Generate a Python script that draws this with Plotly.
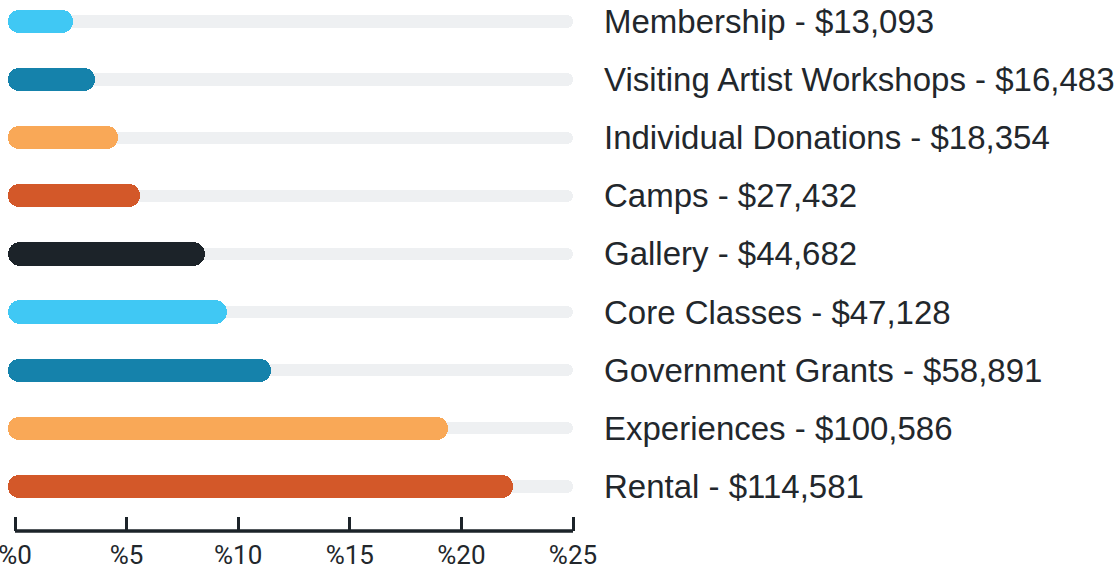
import plotly.graph_objects as go

# Data (top to bottom in the picture)
categories = ["Membership", "Visiting Artist Workshops", "Individual Donations", "Camps",
              "Gallery", "Core Classes", "Government Grants", "Experiences", "Rental"]
amounts = ["$13,093", "$16,483", "$18,354", "$27,432", "$44,682", "$47,128",
           "$58,891", "$100,586", "$114,581"]
percents = [2.61, 3.57, 4.61, 5.60, 8.51, 9.51, 11.48, 19.39, 22.33]
colors = ["#40c8f4", "#1582ab", "#f9a857", "#d35829", "#1c2329",
          "#40c8f4", "#1582ab", "#f9a857", "#d35829"]
tick_vals = [0, 5, 10, 15, 20, 25]
tick_text = ["%0", "%5", "%10", "%15", "%20", "%25"]
track_max = 25

# plot from bottom (Rental) to top
cats = categories[::-1]
amts = amounts[::-1]
pcts = percents[::-1]
cols = colors[::-1]
ypos = list(range(len(cats)))

base = -0.314

fig = go.Figure()
fig.add_trace(go.Bar(
    y=ypos, x=[track_max - base] * len(cats), base=base, orientation="h",
    width=0.21, marker=dict(color="#eef0f2", cornerradius="50%", line=dict(width=0)),
    hoverinfo="skip", showlegend=False))
fig.add_trace(go.Bar(
    y=ypos, x=[p - base for p in pcts], base=base, orientation="h",
    width=0.40, marker=dict(color=cols, cornerradius="50%", line=dict(width=0)),
    showlegend=False))

for i, (c, a) in enumerate(zip(cats, amts)):
    fig.add_annotation(x=1, xref="paper", y=i, yref="y", xanchor="left", xshift=27,
                       text=f"{c} - {a}", showarrow=False,
                       font=dict(family="Liberation Sans, Arial, sans-serif", size=33, color="#22272c"))

fig.add_shape(type="line", xref="x", yref="paper", x0=0, x1=track_max, y0=0, y1=0,
              line=dict(color="#1c2329", width=3.5))

fig.update_layout(
    width=1118, height=571,
    margin=dict(l=6, r=543, t=4, b=40, autoexpand=False),
    paper_bgcolor="white", plot_bgcolor="white",
    barmode="overlay", bargap=0,
    xaxis=dict(range=[-9 / 22.32, 25 + 2 / 22.32], tickvals=tick_vals, ticktext=tick_text,
               ticks="inside", ticklen=14, tickwidth=3, tickcolor="#1c2329",
               showgrid=False, zeroline=False, showline=False, ticklabelstandoff=6,
               automargin=False, ticklabeloverflow="allow",
               tickfont=dict(family="Liberation Sans Narrow, Roboto, sans-serif", size=26, color="#22272c")),
    yaxis=dict(range=[-0.766, 8.3], showticklabels=False, showgrid=False, zeroline=False,
               showline=False, ticks="", automargin=False),
)

fig.write_html("out.html", config={"displayModeBar": False},
               post_script="document.body.style.margin='0px';document.body.style.overflow='hidden';")
